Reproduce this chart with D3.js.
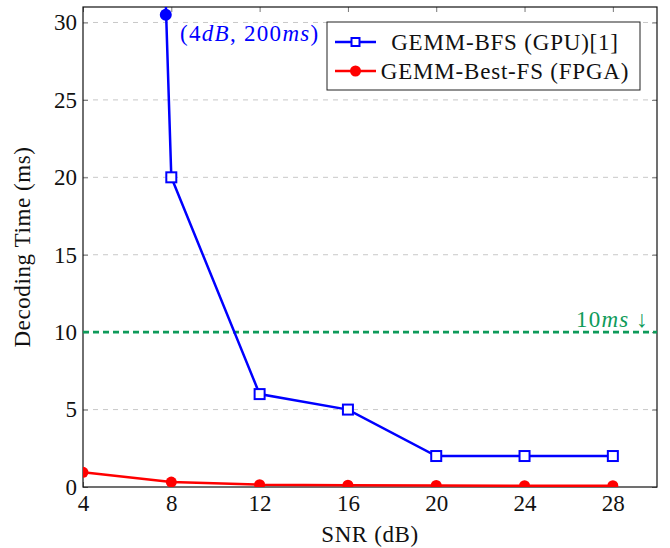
<!DOCTYPE html>
<html><head><meta charset="utf-8">
<script src="https://cdn.jsdelivr.net/npm/d3@7"></script>
<style>body{margin:0;background:#fff}text{font-family:"Liberation Serif","Times New Roman",serif}</style>
</head><body>
<svg id="c" width="670" height="548"></svg>
<script>
const snr = [4, 8, 12, 16, 20, 24, 28];
const gpuTime = [200, 20, 6, 5, 2, 2, 2];
const fpgaTime = [0.95, 0.32, 0.15, 0.12, 0.1, 0.08, 0.08];
const xTicks = [4, 8, 12, 16, 20, 24, 28];
const yTicks = [0, 5, 10, 15, 20, 25, 30];
const thresholdMs = 10;
const annotPoint = [7.75, 30.5];
const seriesNames = ["GEMM-BFS (GPU)[1]", "GEMM-Best-FS (FPGA)"];

const svg = d3.select("#c");
const L = 83, R = 657, T = 7, B = 487;
const x = d3.scaleLinear().domain([4, 30]).range([L, R]);
const y = d3.scaleLinear().domain([0, 31]).range([B, T]);

svg.append("defs").append("clipPath").attr("id", "clip")
  .append("rect").attr("x", L).attr("y", T).attr("width", R - L).attr("height", B - T);

// grid
svg.append("g").selectAll("line").data(yTicks.filter(d => d > 0)).join("line")
  .attr("x1", L).attr("x2", R).attr("y1", d => y(d)).attr("y2", d => y(d))
  .attr("stroke", "#c8c8c8").attr("stroke-width", 1).attr("stroke-dasharray", "5,5");

// axes
const fs = 23;
const gx = svg.append("g").attr("transform", `translate(0,${B})`)
  .call(d3.axisBottom(x).tickValues(xTicks).tickSize(-5).tickPadding(7));
const gxt = svg.append("g").attr("transform", `translate(0,${T})`)
  .call(d3.axisTop(x).tickValues(xTicks).tickSize(-5).tickFormat(""));
const gy = svg.append("g").attr("transform", `translate(${L},0)`)
  .call(d3.axisLeft(y).tickValues(yTicks).tickSize(-5).tickPadding(6));
const gyr = svg.append("g").attr("transform", `translate(${R},0)`)
  .call(d3.axisRight(y).tickValues(yTicks).tickSize(-5).tickFormat(""));
[gx, gxt, gy, gyr].forEach(g => {
  g.select(".domain").remove();
  g.selectAll(".tick line").attr("stroke", "#777").attr("stroke-width", 1);
  g.selectAll("text").attr("font-size", fs).attr("fill", "#111")
    .attr("font-family", "'Liberation Serif', serif");
});
gx.selectAll("text").attr("dy", "0.72em");
svg.append("rect").attr("x", L).attr("y", T).attr("width", R - L).attr("height", B - T)
  .attr("fill", "none").attr("stroke", "#111").attr("stroke-width", 1.2);

// threshold
const green = "#0f9b5a";
svg.append("line").attr("x1", L).attr("x2", R).attr("y1", y(thresholdMs)).attr("y2", y(thresholdMs))
  .attr("stroke", green).attr("stroke-width", 2.6).attr("stroke-dasharray", "6,4");
const tt = svg.append("text").attr("x", 649).attr("y", y(thresholdMs) - 5).attr("text-anchor", "end")
  .attr("font-size", fs).attr("fill", green).attr("letter-spacing", 1.2);
tt.append("tspan").text("10");
tt.append("tspan").attr("font-style", "italic").text("ms");
tt.append("tspan").text(" \u2193");

// series
const line = d3.line().x(d => x(d[0])).y(d => y(d[1]));
const gpu = snr.map((s, i) => [s, gpuTime[i]]);
const fpga = snr.map((s, i) => [s, fpgaTime[i]]);
const plot = svg.append("g").attr("clip-path", "url(#clip)");
plot.append("path").datum(fpga).attr("d", line).attr("fill", "none").attr("stroke", "#ff0000").attr("stroke-width", 2.5);
plot.append("path").datum(gpu).attr("d", line).attr("fill", "none").attr("stroke", "#0000ff").attr("stroke-width", 2.5);
plot.selectAll(".rc").data(fpga).join("circle").attr("cx", d => x(d[0])).attr("cy", d => y(d[1]))
  .attr("r", 5.5).attr("fill", "#ff0000");
plot.selectAll(".bs").data(gpu.filter(d => d[1] <= 31)).join("rect")
  .attr("x", d => x(d[0]) - 5).attr("y", d => y(d[1]) - 5).attr("width", 10).attr("height", 10)
  .attr("fill", "#fff").attr("stroke", "#0000ff").attr("stroke-width", 2);
svg.append("circle").attr("cx", x(annotPoint[0])).attr("cy", y(annotPoint[1])).attr("r", 6).attr("fill", "#0000ff");
const at = svg.append("text").attr("x", 180).attr("y", 41).attr("font-size", fs).attr("fill", "#0000ff")
  .attr("letter-spacing", 1.3);
at.append("tspan").text("(4");
at.append("tspan").attr("font-style", "italic").text("dB");
at.append("tspan").text(", 200");
at.append("tspan").attr("font-style", "italic").text("ms");
at.append("tspan").text(")");

// legend
const lg = svg.append("g");
lg.append("rect").attr("x", 327).attr("y", 22).attr("width", 313).attr("height", 68)
  .attr("fill", "#fff").attr("stroke", "#222").attr("stroke-width", 1);
const ly = [42, 71];
const colors = ["#0000ff", "#ff0000"];
seriesNames.forEach((n, i) => {
  lg.append("line").attr("x1", 335).attr("x2", 376).attr("y1", ly[i]).attr("y2", ly[i])
    .attr("stroke", colors[i]).attr("stroke-width", 2.5);
  if (i === 0) lg.append("rect").attr("x", 351.5).attr("y", ly[i] - 4).attr("width", 8).attr("height", 8)
    .attr("fill", "#fff").attr("stroke", colors[i]).attr("stroke-width", 2);
  else lg.append("circle").attr("cx", 355.5).attr("cy", ly[i]).attr("r", 5.5).attr("fill", colors[i]);
  lg.append("text").attr("x", 505).attr("y", ly[i] + 7.5).attr("text-anchor", "middle")
    .attr("font-size", fs).attr("letter-spacing", 0.8).attr("fill", "#111").text(n);
});

// axis labels
svg.append("text").attr("x", (L + R) / 2).attr("y", 542).attr("text-anchor", "middle")
  .attr("font-size", fs).attr("letter-spacing", 0.6).attr("fill", "#111").text("SNR (dB)");
svg.append("text").attr("transform", `translate(30,${(T + B) / 2}) rotate(-90)`).attr("text-anchor", "middle")
  .attr("font-size", fs).attr("letter-spacing", 0.6).attr("fill", "#111").text("Decoding Time (ms)");
</script>
</body></html>
